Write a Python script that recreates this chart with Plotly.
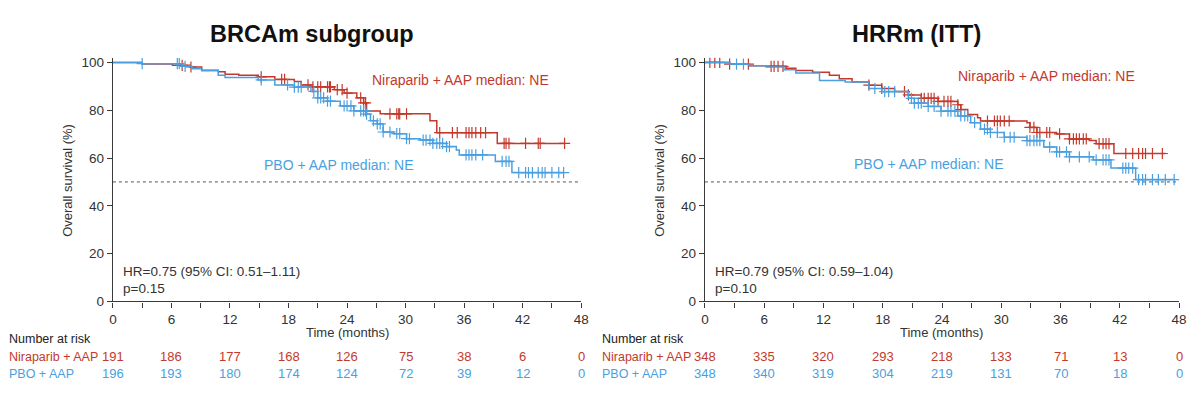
import numpy as np
import plotly.graph_objects as go

RED = "#C3392C"
BLUE = "#4A9FE0"
AXC = "#3a3a3a"
FONT = "Liberation Sans, Arial, sans-serif"

# ---------------- data ----------------
titles = ["BRCAm subgroup", "HRRm (ITT)"]
risk_times = [0, 6, 12, 18, 24, 30, 36, 42, 48]

# BRCAm subgroup
brca_nir_t = [0, 3.0, 6.1, 7.9, 9.1, 10.8, 11.5, 12.9, 14.9, 16.6, 18.6, 19.3, 20.3, 22.7, 23.7, 25.0, 25.7, 26.0, 27.4, 32.5, 33.2, 39.4]
brca_nir_s = [100, 99.4, 98.8, 98.1, 96.7, 96.1, 95.1, 94.7, 94.0, 92.9, 92.0, 90.6, 89.8, 88.6, 87.2, 85.2, 83.1, 79.7, 78.5, 75.6, 70.6, 66.1]
brca_nir_end = 46.3
brca_nir_cens = [7.1, 8.0, 15.2, 17.3, 17.6, 20.0, 20.5, 21.0, 21.3, 22.0, 22.2, 22.3, 23.0, 23.5, 24.0, 25.4, 25.7, 25.9,
                 28.4, 29.1, 29.3, 29.4, 30.1, 33.5, 34.8, 35.3, 36.2, 36.5, 36.8, 37.2, 37.7, 38.2, 40.1, 40.3, 40.6,
                 42.3, 43.6, 43.8, 46.3]

brca_pbo_t = [0, 3.0, 7.1, 8.1, 9.1, 10.8, 11.5, 14.9, 16.6, 18.6, 20.3, 21.0, 22.0, 23.3, 24.7, 26.0, 26.4, 27.1, 27.7, 28.8, 30.1, 31.5, 32.8, 34.2, 35.2, 35.5, 39.2, 40.9]
brca_pbo_s = [100, 99.5, 98.4, 97.4, 96.5, 94.7, 93.7, 92.7, 90.6, 89.7, 87.9, 85.2, 83.8, 81.8, 79.7, 78.4, 75.6, 74.3, 70.9, 70.2, 68.1, 67.5, 66.1, 64.8, 63.4, 61.3, 58.6, 53.9]
brca_pbo_end = 46.2
brca_pbo_cens = [3.0, 6.6, 6.8, 7.4, 15.2, 17.9, 18.6, 19.0, 19.3, 20.6, 21.0, 21.3, 21.6, 22.0, 22.3, 23.7, 24.0, 24.4,
                 24.7, 25.4, 25.7, 25.9, 26.0, 26.7, 27.1, 27.4, 27.7, 28.4, 29.1, 29.4, 30.1, 30.4, 31.8, 32.1, 32.5,
                 32.8, 33.2, 33.5, 33.8, 34.2, 34.5, 36.2, 36.5, 36.8, 37.2, 37.9, 39.9, 40.3, 40.6, 41.6, 42.3, 42.6,
                 43.0, 43.6, 44.0, 44.3, 45.0, 45.7, 46.2]

# HRRm (ITT)
hrr_nir_t = [0, 2.5, 4.5, 6.2, 8.2, 9.2, 10.9, 12.6, 13.6, 14.9, 16.6, 17.9, 19.2, 20.6, 21.9, 23.6, 25.6, 25.9, 26.6, 27.6, 27.9, 32.6, 32.9, 33.6, 35.6, 36.9, 38.9, 39.6, 41.4]
hrr_nir_s = [100, 99.3, 98.6, 98.4, 97.6, 96.6, 95.9, 94.6, 93.2, 91.8, 90.5, 89.1, 87.8, 86.4, 85.0, 83.7, 82.3, 80.3, 78.2, 76.9, 75.5, 74.8, 72.8, 70.7, 70.1, 68.0, 67.3, 66.0, 61.9]
hrr_nir_end = 46.6
hrr_nir_cens = [0.5, 1.0, 1.5, 2.5, 4.4, 6.7, 7.0, 7.4, 7.9, 16.6, 17.9, 20.2, 20.6, 21.9, 22.2, 22.6, 22.9, 23.2, 23.6,
                24.2, 24.6, 24.9, 25.6, 25.9, 28.6, 29.3, 29.6, 29.9, 30.3, 30.8, 32.9, 33.3, 33.6, 33.9, 34.6, 34.9,
                35.9, 36.9, 37.3, 37.6, 37.9, 38.3, 38.6, 39.9, 40.3, 40.6, 40.9, 42.6, 43.3, 43.9, 44.3, 44.6, 45.3, 46.3]

hrr_pbo_t = [0, 2.5, 4.5, 6.2, 8.0, 9.2, 11.6, 14.2, 16.6, 17.9, 20.6, 21.2, 22.6, 23.9, 25.6, 26.9, 27.9, 28.9, 30.3, 32.6, 34.3, 35.6, 36.9, 39.3, 41.1, 43.6]
hrr_pbo_s = [100, 99.3, 98.6, 98.1, 97.0, 95.6, 92.5, 91.8, 89.1, 87.8, 85.0, 83.0, 81.6, 79.6, 77.6, 74.8, 72.1, 70.7, 68.7, 67.3, 64.6, 62.6, 60.5, 59.2, 55.8, 51.0]
hrr_pbo_end = 47.5
hrr_pbo_cens = [3.2, 3.9, 17.2, 18.2, 18.6, 19.2, 20.9, 21.2, 21.6, 21.9, 22.6, 23.2, 23.9, 24.6, 24.9, 25.3, 25.9, 26.3,
                26.6, 27.3, 28.3, 28.6, 28.9, 29.6, 30.3, 30.9, 31.3, 32.6, 32.9, 33.3, 33.6, 33.9, 34.9, 35.6, 35.9,
                36.6, 36.9, 37.9, 38.9, 39.6, 40.3, 40.6, 40.9, 42.3, 42.6, 42.9, 43.3, 43.9, 44.3, 44.6, 45.3, 45.9,
                46.6, 47.5]

brca_risk_nir = [191, 186, 177, 168, 126, 75, 38, 6, 0]
brca_risk_pbo = [196, 193, 180, 174, 124, 72, 39, 12, 0]
hrr_risk_nir = [348, 335, 320, 293, 218, 133, 71, 13, 0]
hrr_risk_pbo = [348, 340, 319, 304, 219, 131, 70, 18, 0]

hr_texts = ["HR=0.75 (95% CI: 0.51\u20131.11)", "HR=0.79 (95% CI: 0.59\u20131.04)"]
p_texts = ["p=0.15", "p=0.10"]
arm_names = ["Niraparib + AAP", "PBO + AAP"]

# ---------------- figure ----------------
fig = go.Figure()


def surv_at(times, surv, t):
    i = int(np.searchsorted(np.array(times), t, side="right")) - 1
    return surv[max(i, 0)]


panels = [
    dict(xa="x", ya="y", curves=[(brca_nir_t, brca_nir_s, brca_nir_end, brca_nir_cens, RED),
                                 (brca_pbo_t, brca_pbo_s, brca_pbo_end, brca_pbo_cens, BLUE)]),
    dict(xa="x2", ya="y2", curves=[(hrr_nir_t, hrr_nir_s, hrr_nir_end, hrr_nir_cens, RED),
                                   (hrr_pbo_t, hrr_pbo_s, hrr_pbo_end, hrr_pbo_cens, BLUE)]),
]

for p in panels:
    # 50% reference line
    fig.add_trace(go.Scatter(x=[0, 48], y=[50, 50], mode="lines",
                             line=dict(color="#555555", width=1, dash="dot"),
                             xaxis=p["xa"], yaxis=p["ya"], showlegend=False, hoverinfo="skip"))
    for (t, s, end, cens, col) in p["curves"]:
        fig.add_trace(go.Scatter(x=list(t) + [end], y=list(s) + [s[-1]], mode="lines",
                                 line=dict(color=col, width=1.5, shape="hv"),
                                 xaxis=p["xa"], yaxis=p["ya"], showlegend=False, hoverinfo="skip"))
        fig.add_trace(go.Scatter(x=cens, y=[surv_at(t, s, c) for c in cens], mode="markers",
                                 marker=dict(symbol="cross-thin", size=8, line=dict(color=col, width=1.2)),
                                 xaxis=p["xa"], yaxis=p["ya"], showlegend=False, hoverinfo="skip"))

H = 404.0
W = 1200.0


def py(pix):
    return 1 - pix / H


def px(pix):
    return pix / W


ydom = [py(307), py(57.1)]
axis_common = dict(showline=True, linecolor=AXC, linewidth=1.3, ticks="outside", ticklen=5,
                   tickcolor=AXC, tickwidth=1.2, showgrid=False, zeroline=False,
                   tickfont=dict(family=FONT, size=13.5, color="#333333"))
minor = dict(dtick=3, ticks="outside", ticklen=5, tickcolor=AXC, tickwidth=1.2)
fig.update_layout(
    width=1200, height=404, margin=dict(l=0, r=0, t=0, b=0),
    paper_bgcolor="white", plot_bgcolor="white",
    xaxis=dict(domain=[px(110), px(583)], range=[0, 48], tickvals=risk_times, anchor="y", minor=minor, **axis_common),
    yaxis=dict(domain=ydom, range=[0, 102], tickvals=[0, 20, 40, 60, 80, 100], anchor="x", **axis_common),
    xaxis2=dict(domain=[px(708), px(1187)], range=[0, 48], tickvals=risk_times, anchor="y2", minor=minor, **axis_common),
    yaxis2=dict(domain=ydom, range=[0, 102], tickvals=[0, 20, 40, 60, 80, 100], anchor="x2", **axis_common),
    font=dict(family=FONT, color="#333333"),
)

ann = []


def a(text, x, y, xref="paper", yref="paper", xanchor="left", size=13, color="#333333", bold=False, angle=0):
    ann.append(dict(text=("<b>%s</b>" % text) if bold else text, x=x, y=y, xref=xref, yref=yref,
                    xanchor=xanchor, yanchor="middle", showarrow=False, textangle=angle,
                    font=dict(family=FONT, size=size, color=color)))


# titles
a(titles[0], px(311), py(33), xanchor="center", size=23.5, color="#111111", bold=True)
a(titles[1], px(922), py(33), xanchor="center", size=23.5, color="#111111", bold=True)

# axis titles
for xl, xc in [(64, 347), (662, 947)]:
    a("Overall survival (%)", px(xl), py(183), xanchor="center", size=13, angle=-90)
    a("Time (months)", px(xc), py(339), xanchor="center", size=13)

# median labels
a("Niraparib + AAP median: NE", px(370), py(80), size=14, color=RED)
a("PBO + AAP median: NE", px(261), py(167), size=14, color=BLUE)
a("Niraparib + AAP median: NE", px(962), py(76), size=14, color=RED)
a("PBO + AAP median: NE", px(857), py(166), size=14, color=BLUE)

# HR text
a(hr_texts[0], px(118), py(276), size=13.5)
a(p_texts[0], px(118), py(294), size=13.5)
a(hr_texts[1], px(716), py(276), size=13.5)
a(p_texts[1], px(716), py(294), size=13.5)

# risk table
for xlab, xref, rn, rp in [(3, "x", brca_risk_nir, brca_risk_pbo), (602, "x2", hrr_risk_nir, hrr_risk_pbo)]:
    a("Number at risk", px(xlab), py(346), size=12.5, color="#222222")
    a(arm_names[0], px(xlab), py(363.5), size=12.5, color=RED)
    a(arm_names[1], px(xlab), py(381), size=12.5, color=BLUE)
    for t, vn, vp in zip(risk_times, rn, rp):
        a(str(vn), t, py(363.5), xref=xref, xanchor="center", size=13, color=RED)
        a(str(vp), t, py(381), xref=xref, xanchor="center", size=13, color=BLUE)

fig.update_layout(annotations=ann)
fig.write_html("out.html")
